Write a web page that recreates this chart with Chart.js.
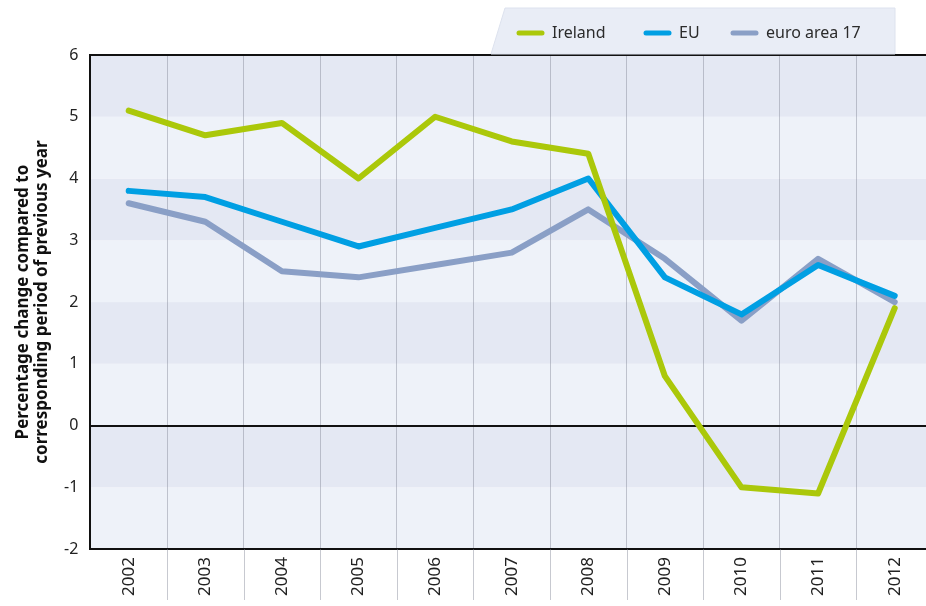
<!DOCTYPE html>
<html>
<head>
<meta charset="utf-8">
<script src="https://cdn.jsdelivr.net/npm/chart.js@4"></script>
<style>
  html, body { margin: 0; padding: 0; background: #fff; overflow: hidden; }
  #wrap { position: relative; width: 934px; height: 606px; }
</style>
</head>
<body>
<div id="wrap"><canvas id="myChart"></canvas></div>
<script>
const years = ['2002', '2003', '2004', '2005', '2006', '2007', '2008', '2009', '2010', '2011', '2012'];
const ireland = [5.1, 4.7, 4.9, 4.0, 5.0, 4.6, 4.4, 0.8, -1.0, -1.1, 1.9];
const eu = [3.8, 3.7, 3.3, 2.9, 3.2, 3.5, 4.0, 2.4, 1.8, 2.6, 2.1];
const euroArea = [3.6, 3.3, 2.5, 2.4, 2.6, 2.8, 3.5, 2.7, 1.7, 2.7, 2.0];
const yMin = -2;
const yMax = 6;

const FONT = '"Noto Sans", "DejaVu Sans", sans-serif';
const GRID = 'rgba(130,136,150,0.45)';

// alternating horizontal bands + zero line + top frame + grid extension below axis
const bandsPlugin = {
    id: 'bands',
    beforeDraw(chart) {
        const { ctx, chartArea: a, scales: { y } } = chart;
        ctx.save();
        for (let v = yMin; v < yMax; v++) {
            const top = y.getPixelForValue(v + 1);
            const bot = y.getPixelForValue(v);
            ctx.fillStyle = ((yMax - v) % 2 === 1) ? '#e4e8f3' : '#eef2f9';
            ctx.fillRect(a.left, top, a.right - a.left, bot - top);
        }
        ctx.restore();
    },
    beforeDatasetsDraw(chart) {
        const { ctx, chartArea: a, scales: { x, y } } = chart;
        ctx.save();
        // vertical separators continue under the axis between the year labels
        ctx.strokeStyle = GRID;
        ctx.lineWidth = 1;
        for (let i = 1; i < years.length; i++) {
            const px = Math.round((x.getPixelForValue(i - 1) + x.getPixelForValue(i)) / 2) + 0.5;
            ctx.beginPath();
            ctx.moveTo(px, a.bottom);
            ctx.lineTo(px, 600);
            ctx.stroke();
        }
        ctx.strokeStyle = '#111';
        ctx.lineWidth = 2;
        const z = Math.round(y.getPixelForValue(0));
        ctx.beginPath();
        ctx.moveTo(a.left, z);
        ctx.lineTo(a.right, z);
        ctx.stroke();
        ctx.beginPath();
        ctx.moveTo(a.left, a.top);
        ctx.lineTo(a.right, a.top);
        ctx.stroke();
        ctx.restore();
    }
};

// legend in a slanted box above the plot
const legendPlugin = {
    id: 'boxLegend',
    afterDraw(chart) {
        const { ctx, chartArea: a } = chart;
        ctx.save();
        const bTop = 8, bBot = a.top - 1;
        ctx.fillStyle = '#e9edf6';
        ctx.strokeStyle = '#dde2ee';
        ctx.lineWidth = 1;
        ctx.beginPath();
        ctx.moveTo(505, bTop);
        ctx.lineTo(895, bTop);
        ctx.lineTo(895, bBot);
        ctx.lineTo(491, bBot);
        ctx.closePath();
        ctx.fill();
        ctx.stroke();
        const xs = [517, 644, 731];
        ctx.font = '16px ' + FONT;
        ctx.textBaseline = 'middle';
        chart.data.datasets.forEach((ds, i) => {
            const x = xs[i], yy = 33;
            ctx.strokeStyle = ds.borderColor;
            ctx.lineWidth = 5;
            ctx.lineCap = 'round';
            ctx.beginPath();
            ctx.moveTo(x + 2, yy);
            ctx.lineTo(x + 25, yy);
            ctx.stroke();
            ctx.fillStyle = '#2b2b2b';
            ctx.fillText(ds.label, x + 35, yy);
        });
        ctx.restore();
    }
};

const ctx = document.getElementById('myChart').getContext('2d');
const growthChart = new Chart(ctx, {
    type: 'line',
    data: {
        labels: years,
        datasets: [{
            label: 'Ireland',
            data: ireland,
            borderColor: '#abc80a',
            borderWidth: 6
        }, {
            label: 'EU',
            data: eu,
            borderColor: '#009fe3',
            borderWidth: 6
        }, {
            label: 'euro area 17',
            data: euroArea,
            borderColor: '#8a9fc6',
            borderWidth: 6
        }]
    },
    options: {
        responsive: true,
        maintainAspectRatio: false,
        animation: false,
        devicePixelRatio: 1,
        elements: {
            point: { radius: 0, hoverRadius: 0 },
            line: { tension: 0, borderCapStyle: 'round', borderJoinStyle: 'round', fill: false }
        },
        layout: { padding: { top: 55, right: 1, bottom: 2, left: 10 } },
        plugins: {
            legend: { display: false },
            tooltip: { enabled: false }
        },
        scales: {
            x: {
                offset: true,
                grid: {
                    offset: true,
                    color: GRID,
                    lineWidth: 1,
                    drawTicks: false
                },
                border: { display: true, color: '#111', width: 2 },
                ticks: {
                    autoSkip: false,
                    minRotation: 90,
                    maxRotation: 90,
                    padding: 8,
                    color: '#222',
                    font: { family: FONT, size: 17 }
                }
            },
            y: {
                min: yMin,
                max: yMax,
                grid: { display: false, drawTicks: false },
                border: { display: true, color: '#111', width: 2 },
                ticks: {
                    stepSize: 1,
                    padding: 12,
                    color: '#222',
                    font: { family: FONT, size: 16 }
                },
                title: {
                    display: true,
                    text: ['Percentage change compared to', 'corresponding period of previous year'],
                    color: '#111',
                    padding: { top: 3, bottom: 0 },
                    font: { family: FONT, size: 17, weight: 'bold', lineHeight: 1.15 }
                }
            }
        }
    },
    plugins: [bandsPlugin, legendPlugin]
});
</script>
</body>
</html>
